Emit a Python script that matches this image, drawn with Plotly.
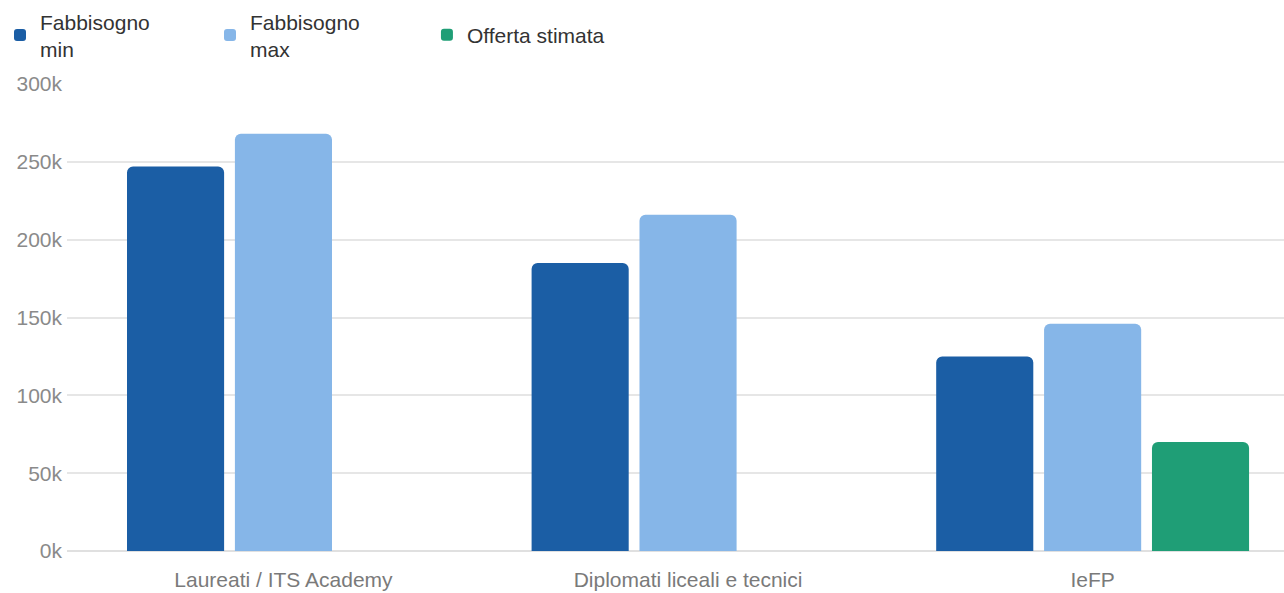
import plotly.graph_objects as go

categories = ["Laureati / ITS Academy", "Diplomati liceali e tecnici", "IeFP"]
fabbisogno_min = [247000, 185000, 125000]
fabbisogno_max = [268000, 216000, 146000]
offerta_stimata = [None, None, 70000]
y_tickvals = [0, 50000, 100000, 150000, 200000, 250000, 300000]
y_ticktext = ["0k", "50k", "100k", "150k", "200k", "250k", "300k"]

FONT = "Helvetica, Liberation Sans, Arial, sans-serif"

fig = go.Figure()
fig.add_trace(go.Bar(name="Fabbisogno<br>min", x=categories, y=fabbisogno_min,
                     marker=dict(color="#1b5ea5", line=dict(width=0))))
fig.add_trace(go.Bar(name="Fabbisogno<br>max", x=categories, y=fabbisogno_max,
                     marker=dict(color="#86b6e8", line=dict(width=0))))
fig.add_trace(go.Bar(name="Offerta stimata", x=categories, y=offerta_stimata,
                     marker=dict(color="#1f9e76", line=dict(width=0)),
                     legend="legend2"))

legend_common = dict(orientation="h", xanchor="left", xref="container", yref="container",
                     font=dict(size=21, color="#333333"), itemsizing="constant",
                     traceorder="normal", bgcolor="rgba(0,0,0,0)")

fig.update_layout(
    width=1284, height=593,
    margin=dict(l=67, r=0, t=84, b=42),
    paper_bgcolor="white", plot_bgcolor="white",
    barmode="group", bargap=0.2, bargroupgap=0.1, barcornerradius=6,
    font=dict(family=FONT, size=21, color="#333333"),
    showlegend=True,
    legend=dict(x=-0.0093, y=0.998, yanchor="top",
                entrywidth=165, entrywidthmode="pixels", **legend_common),
    legend2=dict(x=0.3325, y=0.941, yanchor="middle", **legend_common),
    hovermode=False,
)
fig.update_xaxes(range=[-0.535, 2.473], showgrid=False, showline=False, zeroline=False,
                 automargin=False,
                 ticks="", tickfont=dict(size=21, color="#7a7a7a"), ticklabelstandoff=14)
fig.update_yaxes(range=[0, 300000], tickvals=y_tickvals, ticktext=y_ticktext,
                 automargin=False,
                 showgrid=True, gridcolor="#e6e6e6", gridwidth=2,
                 zeroline=True, zerolinecolor="#e0e0e0", zerolinewidth=2,
                 showline=False, ticks="", tickfont=dict(size=21, color="#8a8a8a"),
                 ticklabelstandoff=4)

fig.write_html("out.html")
